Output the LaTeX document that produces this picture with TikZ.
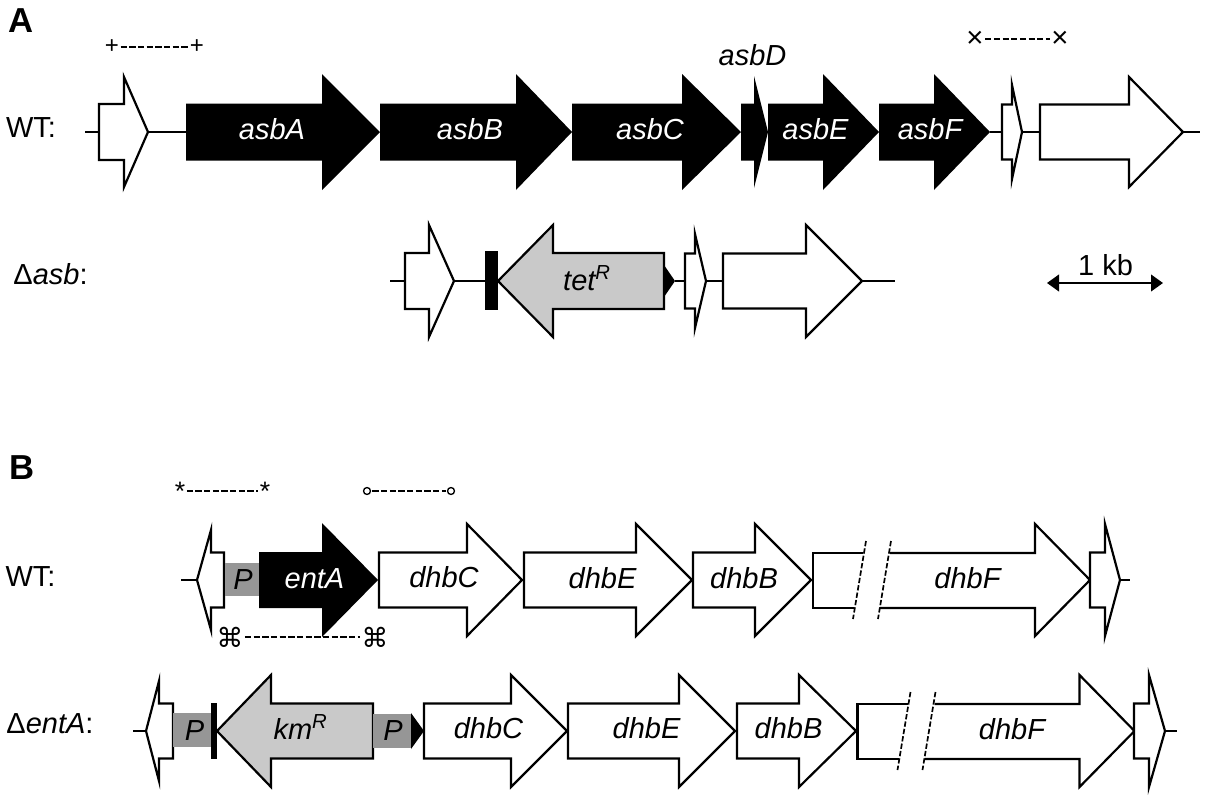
\documentclass[tikz,border=0pt]{standalone}
\usepackage{fontspec}
\setmainfont{Liberation Sans}
\newfontfamily\symfont{DejaVu Sans}
\usetikzlibrary{arrows.meta}
\definecolor{resgrey}{HTML}{C9C9C9}
\definecolor{promgrey}{HTML}{969696}
\tikzset{
  outl/.style={draw=black,line width=1.65pt,fill=white,miter limit=30},
  solid gene/.style={fill=black,draw=none},
  res gene/.style={draw=black,line width=1.65pt,fill=resgrey,miter limit=30},
  link/.style={draw=black,line width=1.5pt},
  lab/.style={anchor=base,inner sep=0pt,font=\fontsize{21.75}{26}\selectfont},
  wlab/.style={lab,text=white},
  panel/.style={anchor=base,inner sep=0pt,font=\fontsize{26}{30}\selectfont\bfseries},
  probe/.style={line width=1.4pt,dash pattern=on 4.7pt off 1.8pt,shorten >=1pt,shorten <=1pt},
  symb/.style={inner sep=0pt,font=\fontsize{18}{18}\selectfont},
  crosssymb/.style={inner sep=0pt,font=\fontsize{22}{22}\selectfont},
  starsymb/.style={inner sep=0pt,font=\fontsize{20}{20}\selectfont},
  cmdsymb/.style={inner sep=0pt,font=\symfont\fontsize{20}{20}\selectfont},
  ring/.style={circle,draw=black,line width=1pt,fill=white,minimum size=5.2pt,inner sep=0pt},
  promoter/.style={fill=promgrey,draw=none},
  blackpart/.style={fill=black,draw=none},
  cut/.style={line width=1.25pt,dash pattern=on 4pt off 1.6pt}
}
% name, tail x, shoulder x, tip x, centre y, body half, head half, style
\newcommand{\gene}[8]{%
  \path[#8] (#2,#5-#6) -- (#3,#5-#6) -- (#3,#5-#7) -- (#4,#5) -- (#3,#5+#7) -- (#3,#5+#6) -- (#2,#5+#6) -- cycle;
  \coordinate (#1-tail) at (#2,#5);
  \coordinate (#1-tip) at (#4,#5);
}
% name, dx, dy : the long gene with a gap in it
\newcommand{\brokengene}[3]{%
  \begin{scope}[xshift=#2*.75pt,yshift=-#3*.75pt]
    \path[fill=white] (813,553) -- (863,553) -- (854,608) -- (813,608) -- cycle;
    \draw[line width=1.65pt] (863,553) -- (813,553) -- (813,608) -- (854,608);
    \path[fill=white] (890,553) -- (1035,553) -- (1035,524) -- (1090,580) -- (1035,636) -- (1035,608) -- (880,608) -- cycle;
    \draw[line width=1.65pt,miter limit=30] (890,553) -- (1035,553) -- (1035,524) -- (1090,580) -- (1035,636) -- (1035,608) -- (880,608);
    \draw[cut] (866,541) -- (853,619);
    \draw[cut] (891,541) -- (878,619);
    \coordinate (#1-tail) at (813,580);
    \coordinate (#1-tip) at (1090,580);
  \end{scope}
}
\begin{document}
\begin{tikzpicture}[x=.75pt,y=-.75pt]
\useasboundingbox (0,0) rectangle (1208,800);
\fill[white] (0,0) rectangle (1208,800);

\node[panel] (panelA) at (21,32) {A};
\node[panel] (panelB) at (22,479) {B};

% ---------- A WT
\gene{aw1}{99}{124}{148}{132}{28}{55}{outl}
\gene{asbA}{186}{322}{380}{132}{28.5}{58}{solid gene}
\gene{asbB}{380}{516}{572}{132}{28.5}{58}{solid gene}
\gene{asbC}{572}{682}{741}{132}{28.5}{58}{solid gene}
\gene{asbD}{741}{754}{768}{132}{28.5}{56}{solid gene}
\gene{asbE}{768}{823}{879}{132}{28.5}{58}{solid gene}
\gene{asbF}{879}{934}{990}{132}{28.5}{58}{solid gene}
\gene{aw2}{1002}{1012}{1022}{132}{27.5}{47}{outl}
\gene{aw3}{1040}{1129}{1183}{132}{27.5}{55}{outl}
\coordinate (aw-start) at (85,132);
\coordinate (aw-end) at (1200,132);
\draw[link] (aw-start) -- (aw1-tail);
\draw[link] (aw1-tip) -- (asbA-tail);
\draw[link] (asbF-tip) -- (aw2-tail);
\draw[link] (aw2-tip) -- (aw3-tail);
\draw[link] (aw3-tip) -- (aw-end);

\node[lab] (twtA) at (31,137.5) {WT:};
\node[wlab] (tasbA) at (272,139) {\itshape asbA};
\node[wlab] (tasbB) at (470,139) {\itshape asbB};
\node[wlab] (tasbC) at (650,139) {\itshape asbC};
\node[lab] (tasbD) at (752.5,65) {\itshape asbD};
\node[wlab] (tasbE) at (815.5,139) {\itshape asbE};
\node[wlab] (tasbF) at (930,139) {\itshape asbF};

\node[symb] (pl1) at (112,47) {+};
\node[symb] (pl2) at (197,47) {+};
\draw[probe] (pl1) -- (pl2);
\node[crosssymb] (xx1) at (975,39) {×};
\node[crosssymb] (xx2) at (1060,39) {×};
\draw[probe] (xx1) -- (xx2);

% ---------- A delta
\gene{ad1}{405}{429}{454}{281}{28}{56}{outl}
\path[blackpart] (485,251) rectangle (498,310);
\coordinate (bar1) at (485,281);
\gene{tet}{664}{553}{498}{281}{28}{56}{res gene}
\path[blackpart] (664,265) -- (675,281) -- (664,297) -- cycle;
\coordinate (tri1) at (675,281);
\gene{ad2}{685}{695}{706}{281}{27.5}{47}{outl}
\gene{ad3}{723}{806}{862}{281}{27.5}{56}{outl}
\coordinate (ad-start) at (390,281);
\coordinate (ad-end) at (895,281);
\draw[link] (ad-start) -- (ad1-tail);
\draw[link] (ad1-tip) -- (bar1);
\draw[link] (tri1) -- (ad2-tail);
\draw[link] (ad2-tip) -- (ad3-tail);
\draw[link] (ad3-tip) -- (ad-end);

\node[lab] (tdasb) at (50.5,284) {Δ\itshape asb\upshape :};
\node[lab] (ttet) at (587,290) {\itshape tet\textsuperscript{R}};
\coordinate (kb1) at (1047,283);
\coordinate (kb2) at (1163,283);
\draw[{Triangle[length=9pt,width=12.5pt]}-{Triangle[length=9pt,width=12.5pt]},line width=1.5pt] (kb1) -- (kb2);
\node[lab] (tkb) at (1105.5,275) {1 kb};

% ---------- B WT
\gene{bw1}{224}{211}{197}{580}{27.5}{50}{outl}
\path[promoter] (225,563) rectangle (259,596);
\gene{entA}{259}{322}{378}{580}{28}{57}{solid gene}
\gene{dhbC}{379}{467}{522}{580}{27.5}{56}{outl}
\gene{dhbE}{524}{636}{692}{580}{27.5}{56}{outl}
\gene{dhbB}{693}{755}{811}{580}{27.5}{56}{outl}
\brokengene{dhbF}{0}{0}
\gene{bw2}{1090}{1105}{1120}{580}{27.5}{56}{outl}
\coordinate (bw-start) at (181,580);
\coordinate (bw-end) at (1130,580);
\draw[link] (bw-start) -- (bw1-tip);
\draw[link] (bw2-tip) -- (bw-end);

\node[lab] (twtB) at (30.5,586) {WT:};
\node[lab] (tP1) at (243,589) {\itshape P};
\node[wlab] (tentA) at (314.5,588) {\itshape entA};
\node[lab] (tdhbC) at (444,587) {\itshape dhbC};
\node[lab] (tdhbE) at (602.5,588) {\itshape dhbE};
\node[lab] (tdhbB) at (744,588) {\itshape dhbB};
\node[lab] (tdhbF) at (967.5,588) {\itshape dhbF};

\node[starsymb] (st1) at (180,491) {*};
\node[starsymb] (st2) at (265,491) {*};
\draw[probe] (st1) -- (st2);
\node[ring] (oo1) at (367,491) {};
\node[ring] (oo2) at (451,491) {};
\draw[probe] (oo1) -- (oo2);
\node[cmdsymb] (cm1) at (230,637) {⌘};
\node[cmdsymb] (cm2) at (375,637) {⌘};
\draw[probe] (cm1) -- (cm2);

% ---------- B delta
\gene{bd1}{173}{159}{146}{731}{27.5}{50}{outl}
\path[promoter] (173,713) rectangle (212,747);
\path[blackpart] (211,703) rectangle (217,759);
\gene{km}{373}{271}{217}{731}{27.5}{56}{res gene}
\path[promoter] (373,714) rectangle (411,748);
\path[blackpart] (411,713) -- (424,731) -- (411,749) -- cycle;
\gene{dhbC2}{424}{511}{567}{731}{27.5}{56}{outl}
\gene{dhbE2}{568}{679}{735}{731}{27.5}{56}{outl}
\gene{dhbB2}{737}{799}{856}{731}{27.5}{56}{outl}
\brokengene{dhbF2}{44.5}{151}
\gene{bd2}{1134}{1149}{1165}{731}{27.5}{56}{outl}
\coordinate (bd-start) at (133,731);
\coordinate (bd-end) at (1177,731);
\draw[link] (bd-start) -- (bd1-tip);
\draw[link] (bd2-tip) -- (bd-end);

\node[lab] (tdent) at (50,733) {Δ\itshape entA\upshape :};
\node[lab] (tP2) at (194.5,740) {\itshape P};
\node[lab] (tkm) at (300.5,739) {\itshape km\textsuperscript{R}};
\node[lab] (tP3) at (393,740) {\itshape P};
\node[lab] (tdhbC2) at (488.5,738) {\itshape dhbC};
\node[lab] (tdhbE2) at (646.5,738) {\itshape dhbE};
\node[lab] (tdhbB2) at (788.5,738) {\itshape dhbB};
\node[lab] (tdhbF2) at (1012,739) {\itshape dhbF};
\end{tikzpicture}
\end{document}
